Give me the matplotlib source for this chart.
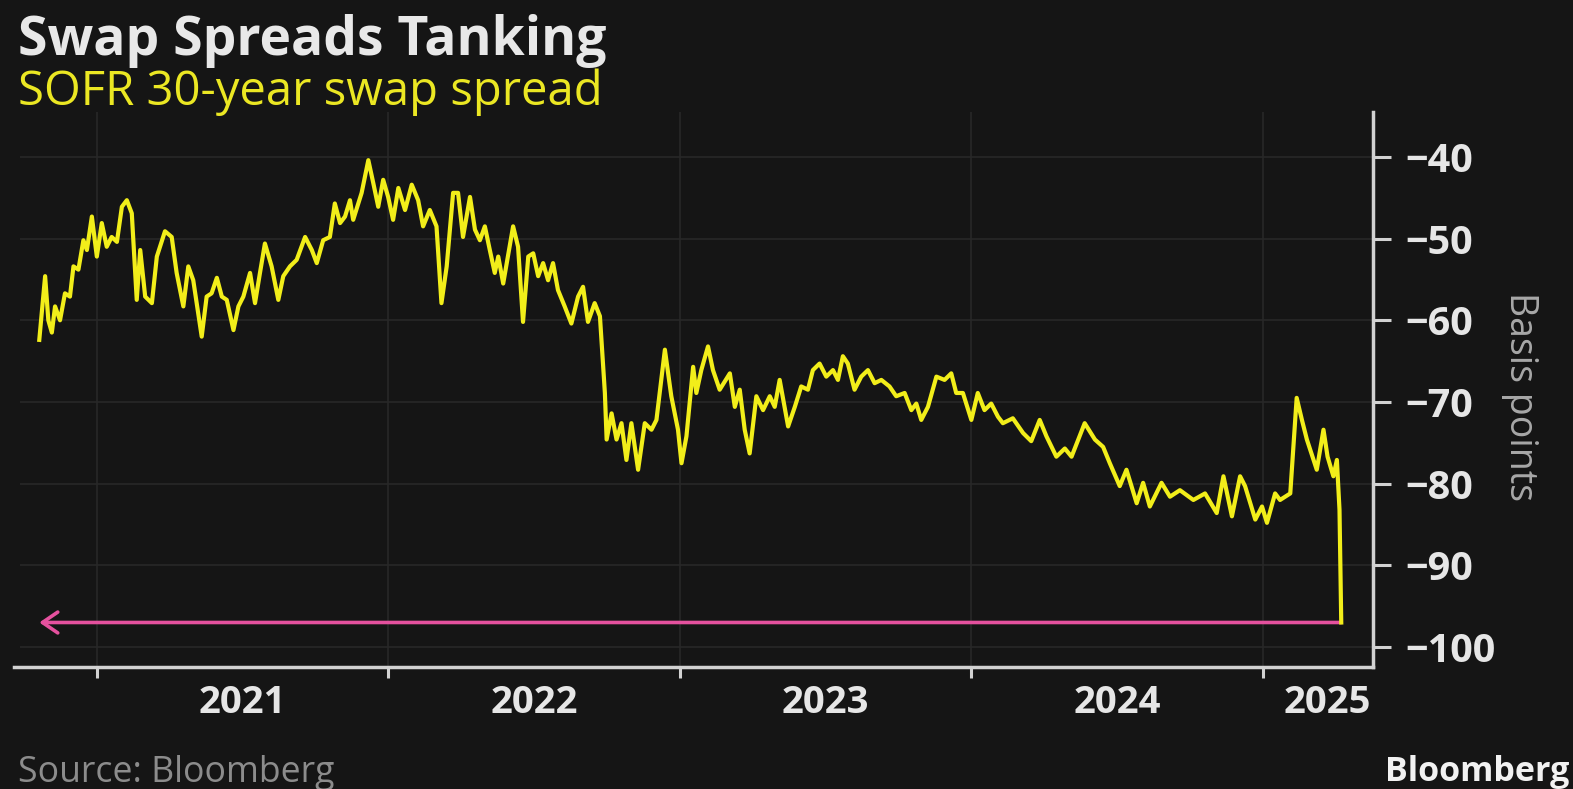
import matplotlib
matplotlib.use("Agg")
import matplotlib.pyplot as plt
import matplotlib.dates as mdates
import pandas as pd
import numpy as np

# SOFR 30-year swap spread (basis points), dates as fractional years
years = [
    2020.802, 2020.822, 2020.833, 2020.845, 2020.856, 2020.873, 2020.890, 2020.907,
    2020.919, 2020.936, 2020.953, 2020.965, 2020.982, 2020.999, 2021.016, 2021.033,
    2021.050, 2021.068, 2021.085, 2021.102, 2021.119, 2021.136, 2021.148, 2021.165,
    2021.188, 2021.205, 2021.233, 2021.256, 2021.273, 2021.296, 2021.313, 2021.330,
    2021.359, 2021.376, 2021.393, 2021.411, 2021.428, 2021.445, 2021.468, 2021.485,
    2021.502, 2021.525, 2021.542, 2021.559, 2021.576, 2021.599, 2021.622, 2021.639,
    2021.662, 2021.685, 2021.714, 2021.737, 2021.754, 2021.776, 2021.799, 2021.816,
    2021.834, 2021.851, 2021.868, 2021.879, 2021.908, 2021.931, 2021.948, 2021.965,
    2021.982, 2021.999, 2022.016, 2022.034, 2022.057, 2022.080, 2022.102, 2022.119,
    2022.142, 2022.165, 2022.182, 2022.200, 2022.222, 2022.239, 2022.256, 2022.280,
    2022.297, 2022.314, 2022.331, 2022.348, 2022.365, 2022.377, 2022.394, 2022.428,
    2022.445, 2022.462, 2022.480, 2022.497, 2022.514, 2022.531, 2022.548, 2022.565,
    2022.582, 2022.605, 2022.628, 2022.651, 2022.668, 2022.685, 2022.708, 2022.726,
    2022.743, 2022.749, 2022.766, 2022.783, 2022.800, 2022.817, 2022.834, 2022.857,
    2022.880, 2022.903, 2022.920, 2022.949, 2022.971, 2022.994, 2023.006, 2023.023,
    2023.046, 2023.057, 2023.074, 2023.097, 2023.114, 2023.137, 2023.172, 2023.189,
    2023.206, 2023.223, 2023.240, 2023.263, 2023.286, 2023.309, 2023.326, 2023.343,
    2023.372, 2023.395, 2023.417, 2023.440, 2023.457, 2023.480, 2023.503, 2023.526,
    2023.543, 2023.560, 2023.577, 2023.600, 2023.623, 2023.646, 2023.669, 2023.692,
    2023.720, 2023.743, 2023.772, 2023.795, 2023.812, 2023.829, 2023.852, 2023.881,
    2023.909, 2023.932, 2023.949, 2023.972, 2024.001, 2024.023, 2024.046, 2024.069,
    2024.092, 2024.109, 2024.143, 2024.178, 2024.206, 2024.235, 2024.258, 2024.292,
    2024.321, 2024.344, 2024.389, 2024.424, 2024.452, 2024.475, 2024.509, 2024.532,
    2024.567, 2024.589, 2024.612, 2024.652, 2024.681, 2024.715, 2024.761, 2024.801,
    2024.841, 2024.864, 2024.893, 2024.921, 2024.938, 2024.973, 2024.996, 2025.013,
    2025.041, 2025.058, 2025.093, 2025.115, 2025.133, 2025.150, 2025.173, 2025.184,
    2025.207, 2025.221, 2025.241, 2025.253, 2025.262, 2025.268,
]
spread_bp = [
    -62.4, -54.6, -60.0, -61.5, -58.3, -60.0, -56.7, -57.1,
    -53.4, -53.8, -50.2, -51.4, -47.3, -52.2, -48.1, -51.0,
    -49.8, -50.4, -46.1, -45.3, -46.9, -57.5, -51.4, -57.1,
    -57.9, -52.2, -49.1, -49.8, -54.2, -58.3, -53.4, -55.1,
    -62.0, -57.1, -56.7, -54.8, -57.1, -57.5, -61.2, -58.3,
    -57.1, -54.2, -57.9, -54.2, -50.6, -53.4, -57.5, -54.6,
    -53.4, -52.6, -49.8, -51.4, -53.0, -50.2, -49.8, -45.7,
    -48.1, -47.3, -45.3, -47.7, -44.4, -40.4, -43.2, -46.1,
    -42.8, -44.9, -47.7, -43.8, -46.5, -43.4, -45.3, -48.5,
    -46.5, -48.5, -57.9, -53.4, -44.4, -44.4, -49.8, -44.9,
    -48.9, -50.2, -48.5, -51.4, -54.2, -52.2, -55.5, -48.5,
    -51.0, -60.2, -52.2, -51.8, -54.6, -53.0, -55.1, -53.0,
    -56.3, -58.3, -60.4, -57.1, -55.9, -60.2, -57.9, -59.5,
    -68.9, -74.6, -71.4, -74.6, -72.6, -77.1, -72.6, -78.3,
    -72.6, -73.4, -72.2, -63.6, -69.3, -73.4, -77.5, -74.2,
    -65.7, -68.9, -66.1, -63.2, -66.1, -68.5, -66.5, -70.6,
    -68.5, -73.4, -76.3, -69.3, -71.0, -69.3, -70.6, -67.3,
    -73.0, -70.6, -68.1, -68.5, -66.1, -65.3, -66.9, -66.1,
    -67.3, -64.4, -65.3, -68.5, -66.9, -66.1, -67.7, -67.3,
    -68.1, -69.3, -68.9, -71.0, -70.2, -72.2, -70.6, -66.9,
    -67.3, -66.5, -68.9, -68.9, -72.2, -68.9, -71.0, -70.2,
    -71.8, -72.6, -72.0, -73.8, -74.8, -72.2, -74.2, -76.7,
    -75.7, -76.7, -72.6, -74.6, -75.5, -77.5, -80.3, -78.3,
    -82.4, -79.9, -82.8, -79.9, -81.6, -80.8, -82.0, -81.2,
    -83.6, -79.1, -84.0, -79.1, -80.3, -84.4, -82.8, -84.8,
    -81.2, -82.0, -81.2, -69.5, -72.2, -74.6, -77.1, -78.3,
    -73.4, -76.7, -79.1, -77.1, -83.2, -97.0,
]
year_labels = ["2021", "2022", "2023", "2024", "2025"]
y_ticks = [-40, -50, -60, -70, -80, -90, -100]

TITLE = "Swap Spreads Tanking"
SUBTITLE = "SOFR 30-year swap spread"
Y_LABEL = "Basis points"
SOURCE = "Source: Bloomberg"
BRAND = "Bloomberg"

BG = "#151515"
YELLOW = "#f2ee1a"
PINK = "#e5519e"
AXIS = "#d2d2d2"
GRID = "#282828"
FONT = "Open Sans"


def to_datetime(fy):
    y = int(np.floor(fy))
    start = pd.Timestamp(year=y, month=1, day=1)
    end = pd.Timestamp(year=y + 1, month=1, day=1)
    return start + (end - start) * (fy - y)


dates = [to_datetime(v) for v in years]

W, H = 1573, 789
fig = plt.figure(figsize=(W / 100, H / 100), dpi=100, facecolor=BG)
ax = fig.add_axes([20 / W, 1 - 667 / H, (1373 - 20) / W, (667 - 112) / H])
ax.set_facecolor(BG)

x_left = to_datetime(2020.736)
x_right = to_datetime(2025.377)
ax.set_xlim(x_left, x_right)
ax.set_ylim(-102.45, -34.5)

# grid
for t in y_ticks:
    ax.axhline(t, color=GRID, lw=1.2, zorder=0)
for lab in year_labels:
    ax.axvline(pd.Timestamp(f"{lab}-01-01"), color=GRID, lw=1.2, zorder=0)

ax.plot(dates, spread_bp, color=YELLOW, lw=3.0, solid_joinstyle="round", zorder=3)

# arrow pointing back to the start at the latest level
ax.annotate("", xy=(dates[0], spread_bp[-1]), xytext=(dates[-1], spread_bp[-1]),
            arrowprops=dict(arrowstyle="->,head_length=1.1,head_width=0.75",
                            mutation_scale=10, color=PINK, lw=2.6,
                            shrinkA=0, shrinkB=0),
            zorder=2)

# spines
for s in ["top", "left"]:
    ax.spines[s].set_visible(False)
for s in ["bottom", "right"]:
    ax.spines[s].set_color(AXIS)
    ax.spines[s].set_linewidth(2.5)
ax.spines["bottom"].set_bounds(mdates.date2num(to_datetime(2020.715)),
                               mdates.date2num(x_right))

# x axis: ticks at year boundaries, labels centred on each year
major = [pd.Timestamp(f"{lab}-01-01") for lab in year_labels]
label_pos = []
for lab in year_labels:
    s = pd.Timestamp(f"{lab}-01-01")
    e = min(pd.Timestamp(f"{int(lab) + 1}-01-01"), x_right)
    label_pos.append(s + (e - s) / 2 + (pd.Timedelta(days=12) if e == x_right else pd.Timedelta(0)))
ax.set_xticks(major)
ax.set_xticklabels([])
ax.set_xticks(label_pos, minor=True)
ax.set_xticklabels(year_labels, minor=True)
ax.tick_params(axis="x", which="major", length=8, width=2.2, color=AXIS, direction="out")
ax.tick_params(axis="x", which="minor", length=0, pad=12, labelsize=27.5, labelcolor="#e6e6e6")
for t in ax.get_xticklabels(minor=True):
    t.set_fontfamily(FONT)
    t.set_fontweight("bold")

# y axis on the right
ax.yaxis.tick_right()
ax.set_yticks(y_ticks)
ax.set_yticklabels([f"\u2212{abs(v)}" for v in y_ticks])
ax.tick_params(axis="y", which="major", length=13, width=2.2, color=AXIS, pad=10,
               labelsize=28.5, labelcolor="#e6e6e6", direction="out")
for t in ax.get_yticklabels():
    t.set_fontfamily(FONT)
    t.set_fontweight("bold")

fig.text(1520 / W, 1 - 397 / H, Y_LABEL, rotation=270, ha="center", va="center",
         color="#a8a8a8", fontsize=27, fontfamily=FONT)

fig.text(18 / W, 1 - 55 / H, TITLE, ha="left", va="baseline", color="#e8e8e8",
         fontsize=38.5, fontweight="bold", fontfamily=FONT)
fig.text(18 / W, 1 - 105 / H, SUBTITLE, ha="left", va="baseline", color="#ebe723",
         fontsize=34, fontfamily=FONT)
fig.text(18 / W, 1 - 782 / H, SOURCE, ha="left", va="baseline", color="#8c8c8c",
         fontsize=25.7, fontfamily=FONT)
fig.text(1385 / W, 1 - 781 / H, BRAND, ha="left", va="baseline", color="#f2f2f2",
         fontsize=24.5, fontweight="bold", fontfamily=FONT)

fig.savefig("out.png", dpi=100, facecolor=BG)
